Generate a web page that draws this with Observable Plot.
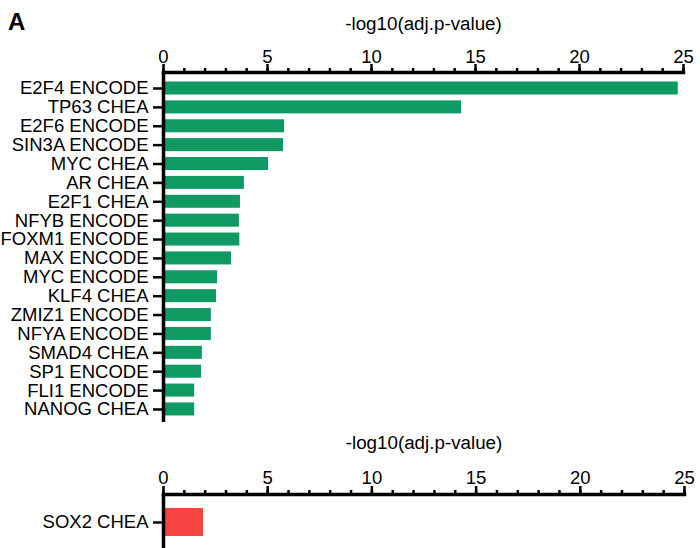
<!DOCTYPE html>
<html>
<head>
<meta charset="utf-8">
<script src="https://cdn.jsdelivr.net/npm/d3@7"></script>
<script src="https://cdn.jsdelivr.net/npm/@observablehq/plot@0.6"></script>
<style>
  html, body { margin: 0; padding: 0; background: #ffffff; }
  #wrap { position: relative; width: 700px; height: 548px; overflow: hidden; font-family: "Liberation Sans", Arial, sans-serif; }
  #panel { position: absolute; left: 8px; top: 8px; font-size: 24px; line-height: 28px; font-weight: bold; color: #000; }
  #top { position: absolute; left: 0; top: 0; }
  #bottom { position: absolute; left: 0; top: 425px; }
</style>
</head>
<body>
<div id="wrap">
  <div id="top"></div>
  <div id="bottom"></div>
  <div id="panel">A</div>
</div>
<script>
const categories = [
  "E2F4 ENCODE", "TP63 CHEA", "E2F6 ENCODE", "SIN3A ENCODE", "MYC CHEA",
  "AR CHEA", "E2F1 CHEA", "NFYB ENCODE", "FOXM1 ENCODE", "MAX ENCODE",
  "MYC ENCODE", "KLF4 CHEA", "ZMIZ1 ENCODE", "NFYA ENCODE", "SMAD4 CHEA",
  "SP1 ENCODE", "FLI1 ENCODE", "NANOG CHEA"
];
const values = [
  24.75, 14.33, 5.82, 5.77, 5.05,
  3.89, 3.70, 3.65, 3.67, 3.27,
  2.60, 2.55, 2.30, 2.30, 1.87,
  1.83, 1.50, 1.50
];
const bottomCategories = ["SOX2 CHEA"];
const bottomValues = [1.92];
const axisTitle = "-log10(adj.p-value)";
const majorTicks = [0, 5, 10, 15, 20, 25];
const minorTicks = d3.range(0, 26, 1);
const xDomain = [0, 25];

const topData = categories.map((name, i) => ({name, value: values[i]}));
const bottomData = bottomCategories.map((name, i) => ({name, value: bottomValues[i]}));

const font = {fontFamily: "'Liberation Sans', Arial, sans-serif", fontSize: "18.5px", color: "#000", background: "transparent", overflow: "visible"};

function axisMarks(titleDy, tickPad) {
  return [
    Plot.axisX(minorTicks, {anchor: "top", tickSize: 5, strokeWidth: 2.5, tickFormat: () => "", label: null}),
    Plot.axisX(majorTicks, {anchor: "top", tickSize: 9, strokeWidth: 2.5, tickPadding: tickPad, label: null, fontSize: 18.5}),
    Plot.axisY({tickSize: 10, tickPadding: 5, strokeWidth: 2.5, label: null, fontSize: 18.5}),
    Plot.ruleX([0], {strokeWidth: 3.5}),
    Plot.frame({anchor: "top", strokeWidth: 3.5}),
    Plot.text([axisTitle], {frameAnchor: "top", lineAnchor: "middle", dy: titleDy, fontSize: 18.8})
  ];
}

const topPlot = Plot.plot({
  width: 700, height: 425,
  marginLeft: 163, marginRight: 17, marginTop: 72, marginBottom: 3,
  style: font,
  x: {domain: xDomain},
  y: {domain: categories, range: [78.56, 418.4], paddingInner: 0.31, paddingOuter: 0.155, round: false},
  marks: [
    Plot.barX(topData, {x: "value", y: "name", fill: "#0f9a64"}),
    ...axisMarks(-49, 1)
  ]
});
document.getElementById("top").appendChild(topPlot);

const bottomPlot = Plot.plot({
  width: 700, height: 123,
  marginLeft: 163, marginRight: 16, marginTop: 69, marginBottom: 0,
  style: font,
  x: {domain: xDomain},
  y: {domain: bottomCategories, range: [83, 111], padding: 0, round: false},
  marks: [
    Plot.barX(bottomData, {x: "value", y: "name", fill: "#f94242"}),
    ...axisMarks(-52, 2)
  ]
});
document.getElementById("bottom").appendChild(bottomPlot);
</script>
</body>
</html>
